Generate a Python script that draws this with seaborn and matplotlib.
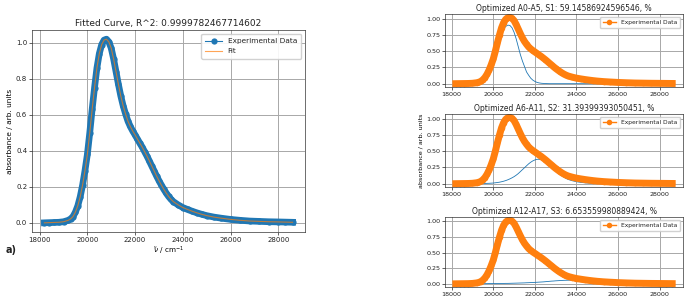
import matplotlib
matplotlib.use("Agg")
import matplotlib.pyplot as plt
import seaborn as sns

# wavenumber grid (cm^-1) and spectra
wavenumber = [18200, 18400, 18600, 18800, 19000,
              19200, 19300, 19400, 19500, 19600, 19700, 19800, 19900, 20000, 20100,
              20200, 20300, 20400, 20500, 20600, 20700, 20800, 20900, 21000, 21100,
              21200, 21300, 21400, 21500, 21600, 21700, 21800, 21900, 22000, 22100,
              22200, 22300, 22400, 22500, 22600, 22700, 22800, 22900, 23000, 23100,
              23200, 23300, 23400, 23500, 23600,
              23800, 24000, 24200, 24400, 24600, 24800, 25000,
              25300, 25600, 26000, 26400, 26800, 27200, 27600, 28000, 28300, 28600]

absorbance = [0.000, 0.001, 0.002, 0.003, 0.006,
              0.014, 0.022, 0.035, 0.060, 0.095, 0.145, 0.210, 0.290, 0.380, 0.500,
              0.630, 0.750, 0.860, 0.940, 0.990, 1.015, 1.020, 1.005, 0.970, 0.910,
              0.840, 0.770, 0.705, 0.650, 0.605, 0.565, 0.535, 0.510, 0.488, 0.465,
              0.442, 0.420, 0.395, 0.370, 0.343, 0.315, 0.288, 0.260, 0.234, 0.210,
              0.187, 0.166, 0.147, 0.131, 0.118,
              0.100, 0.085, 0.074, 0.064, 0.055, 0.047, 0.040,
              0.032, 0.026, 0.019, 0.014, 0.010, 0.008, 0.006, 0.005, 0.004, 0.003]

fit = absorbance  # fit overlaps the data (R^2 ~ 1)

s1 = [0.000, 0.000, 0.001, 0.002, 0.005,
      0.012, 0.020, 0.032, 0.055, 0.088, 0.135, 0.195, 0.270, 0.350, 0.460,
      0.570, 0.680, 0.770, 0.840, 0.880, 0.900, 0.895, 0.860, 0.790, 0.690,
      0.570, 0.450, 0.350, 0.265, 0.180, 0.130, 0.085, 0.055, 0.035, 0.020,
      0.012, 0.007, 0.004, 0.002, 0.001, 0.000, 0.000, 0.000, 0.000, 0.000,
      0.000, 0.000, 0.000, 0.000, 0.000,
      0.000, 0.000, 0.000, 0.000, 0.000, 0.000, 0.000,
      0.000, 0.000, 0.000, 0.000, 0.000, 0.000, 0.000, 0.000, 0.000, 0.000]

s2 = [0.000, 0.000, 0.000, 0.000, 0.001,
      0.001, 0.002, 0.002, 0.003, 0.004, 0.005, 0.006, 0.008, 0.010, 0.014,
      0.018, 0.023, 0.030, 0.038, 0.048, 0.060, 0.074, 0.090, 0.108, 0.130,
      0.155, 0.185, 0.215, 0.245, 0.275, 0.305, 0.330, 0.350, 0.365, 0.375,
      0.375, 0.368, 0.355, 0.335, 0.312, 0.285, 0.255, 0.225, 0.195, 0.170,
      0.140, 0.118, 0.098, 0.080, 0.065,
      0.045, 0.030, 0.020, 0.013, 0.008, 0.005, 0.003,
      0.002, 0.001, 0.001, 0.000, 0.000, 0.000, 0.000, 0.000, 0.000, 0.000]

s3 = [0.000, 0.000, 0.001, 0.001, 0.001,
      0.002, 0.002, 0.002, 0.003, 0.003, 0.003, 0.004, 0.004, 0.004, 0.005,
      0.005, 0.005, 0.006, 0.006, 0.007, 0.007, 0.008, 0.009, 0.010, 0.011,
      0.012, 0.013, 0.014, 0.015, 0.017, 0.018, 0.020, 0.021, 0.023, 0.025,
      0.027, 0.029, 0.031, 0.034, 0.037, 0.040, 0.043, 0.045, 0.048, 0.050,
      0.052, 0.054, 0.056, 0.057, 0.058,
      0.058, 0.057, 0.054, 0.050, 0.046, 0.042, 0.038,
      0.032, 0.026, 0.019, 0.014, 0.010, 0.008, 0.006, 0.005, 0.004, 0.003]

components = [s1, s2, s3]
titles = ["Optimized A0-A5, S1: 59.14586924596546, %",
          "Optimized A6-A11, S2: 31.39399393050451, %",
          "Optimized A12-A17, S3: 6.653559980889424, %"]
fit_title = "Fitted Curve, R^2: 0.9999782467714602"

blue = "#1f77b4"
orange = "#ff7f0e"

plt.rcParams.update({
    "axes.edgecolor": "#333333",
    "axes.linewidth": 0.5,
    "grid.color": "#a8a8a8",
    "grid.linewidth": 0.7,
    "xtick.major.width": 0.5,
    "ytick.major.width": 0.5,
    "xtick.major.size": 2,
    "ytick.major.size": 2,
    "xtick.major.pad": 1.5,
    "ytick.major.pad": 1.5,
    "text.color": "#222222",
    "xtick.color": "#222222",
    "ytick.color": "#222222",
})

fig = plt.figure(figsize=(6.87, 3.01), dpi=100)

# left: full fit
ax = fig.add_axes([32 / 687, 1 - 232 / 301, 273 / 687, 202 / 301])
sns.lineplot(x=wavenumber, y=absorbance, color=blue, lw=4.8, sort=False, ax=ax)
sns.lineplot(x=wavenumber, y=absorbance, color=blue, lw=0.8, marker="o", markersize=4.5,
             markeredgewidth=0, sort=False, label="Experimental Data", ax=ax)
sns.lineplot(x=wavenumber, y=fit, color=orange, lw=0.8, alpha=0.7, sort=False, label="Fit", ax=ax)
ax.set_title(fit_title, fontsize=6.5, pad=3)
ax.set_xlabel(r"$\tilde{\nu}$ / cm$^{-1}$", fontsize=5.2, labelpad=1)
ax.set_ylabel("absorbance / arb. units", fontsize=5.3, labelpad=2)
ax.set_xticks([18000, 20000, 22000, 24000, 26000, 28000])
ax.set_yticks([0.0, 0.2, 0.4, 0.6, 0.8, 1.0])
ax.tick_params(labelsize=5.0)
ax.grid(True)
ax.legend(loc="upper right", fontsize=5.3, framealpha=0.9, edgecolor="#cccccc",
          borderpad=0.6, handlelength=2.2)
fig.text(6 / 687, 1 - 250 / 301, "a)", fontsize=7, fontweight="bold", va="center")

# right: individual components
tops = [14, 114, 217]
heights = [73, 73, 70]
for i, (comp, title) in enumerate(zip(components, titles)):
    ax = fig.add_axes([445 / 687, 1 - (tops[i] + heights[i]) / 301, 238 / 687, heights[i] / 301])
    sns.lineplot(x=wavenumber, y=comp, color=blue, lw=0.6, sort=False, ax=ax)
    sns.lineplot(x=wavenumber, y=absorbance, color=orange, lw=5.0, sort=False, ax=ax)
    sns.lineplot(x=wavenumber, y=absorbance, color=orange, lw=1.0, marker="o", markersize=4,
                 markeredgewidth=0, sort=False, label="Experimental Data", ax=ax)
    ax.set_title(title, fontsize=5.5, pad=2.5)
    ax.set_xticks([18000, 20000, 22000, 24000, 26000, 28000])
    ax.set_yticks([0.0, 0.25, 0.5, 0.75, 1.0])
    ax.set_yticklabels(["0.00", "0.25", "0.50", "0.75", "1.00"])
    ax.tick_params(labelsize=4.6)
    ax.grid(True)
    ax.set_xlabel("")
    if i == 1:
        ax.set_ylabel("absorbance / arb. units", fontsize=4.6, labelpad=2)
    ax.legend(loc="upper right", fontsize=4.3, framealpha=0.9, edgecolor="#cccccc",
              borderpad=0.5, handlelength=2.2)

fig.savefig("out.png", dpi=100)
